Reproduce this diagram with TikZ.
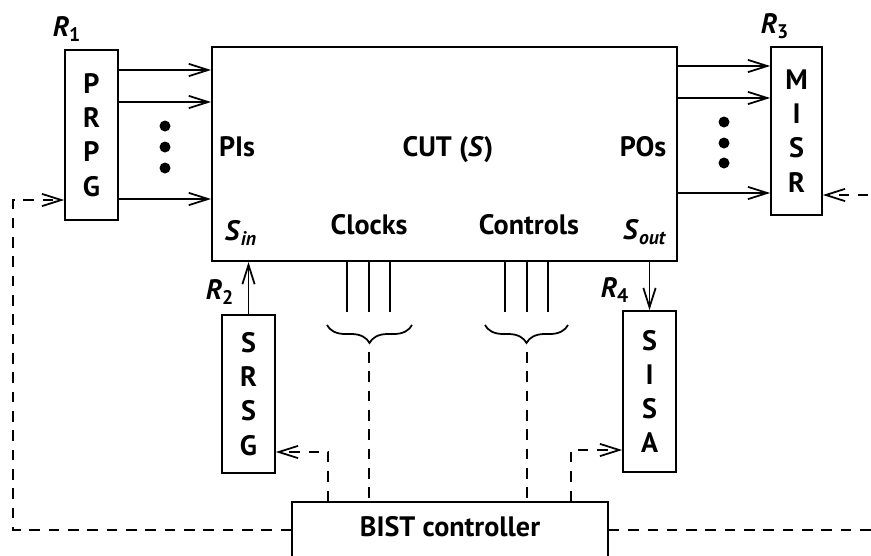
\documentclass[tikz,border=0pt]{standalone}
\usepackage{fontspec}
\setmainfont{PT Sans}
\usetikzlibrary{arrows.meta,positioning,calc,decorations.pathreplacing}

\begin{document}
\begin{tikzpicture}[x=0.02cm, y=-0.02cm,
    every node/.style={font=\bfseries\fontsize{16}{19.5}\selectfont},
    reg/.style={draw, line width=1pt, align=center, inner sep=0pt, minimum width=1.06cm},
    sig/.style={line width=1pt, -{Straight Barb[length=11pt,width=7pt]}},
    ctl/.style={line width=1pt, dash pattern=on 6pt off 5pt, -{Straight Barb[length=11pt,width=7pt]}},
    ctlline/.style={line width=1pt, dash pattern=on 6pt off 5pt},
    bus/.style={line width=0.8pt},
    brc/.style={line width=1pt, decorate, decoration={brace, mirror, amplitude=0.36cm}}]
    \useasboundingbox (0,0) rectangle (871,555);
    \clip (0,0) rectangle (871,555);

    % circuit under test
    \node[draw, line width=1.2pt, minimum width=9.30cm, minimum height=4.28cm, inner sep=0pt] (cut) at (444.5,154) {};
    \node (cutlbl) at (448,150) {CUT (\textit{S})};
    \node (pis) at (237,147) {PIs};
    \node (sin) at (241,233) {\textit{S}\textsubscript{\textit{in}}};
    \node (clk) at (369,225) {Clocks};
    \node (ctrl) at (529,225) {Controls};
    \node (pos) at (643,147) {POs};
    \node (sout) at (645,232) {\textit{S}\textsubscript{\textit{out}}};

    % registers
    \node[reg, minimum height=3.40cm] (prpg) at (91.5,135) {P\\R\\P\\G};
    \node[reg, minimum width=1.02cm, minimum height=3.36cm] (misr) at (796.5,131) {M\\I\\S\\R};
    \node[reg, minimum height=3.16cm] (srsg) at (248.5,394) {S\\R\\S\\G};
    \node[reg, minimum height=3.22cm] (sisa) at (649.5,391.5) {S\\I\\S\\A};
    \node (r1) at (67,29) {\textit{R}\textsubscript{1}};
    \node (r2) at (220,292) {\textit{R}\textsubscript{2}};
    \node (r3) at (775,26) {\textit{R}\textsubscript{3}};
    \node (r4) at (615,290) {\textit{R}\textsubscript{4}};

    % controller
    \node[draw, line width=1pt, minimum width=6.32cm, minimum height=1.5cm, inner sep=0pt] (bist) at (450,539.5) {};
    \node (bistlbl) at (450,527) {BIST controller};

    % PIs and POs
    \foreach \y in {70,102,199}
        \draw[sig] (prpg.east |- 0,\y) -- (cut.west |- 0,\y);
    \foreach \y in {66,98,193}
        \draw[sig] (cut.east |- 0,\y) -- (misr.west |- 0,\y);
    \foreach \y in {126,147,168}
        \fill (165,\y) circle (0.11cm);
    \foreach \y in {122,143,163}
        \fill (724,\y) circle (0.11cm);

    % scan in / scan out
    \draw[sig] (srsg.north) -- (srsg.north |- cut.south);
    \draw[sig] (sisa.north |- cut.south) -- (sisa.north);

    % clocks and controls
    \foreach \x in {347,369,390,505,527,548}
        \draw[bus] (cut.south -| \x,0) -- (\x,312);
    \draw[brc] (327,325) -- (412,325);
    \draw[brc] (485,325) -- (568,325);
    \coordinate (clkb) at (369,352);
    \coordinate (ctlb) at (527,352);
    \draw[ctlline] (clkb) -- (bist.north -| clkb);
    \draw[ctlline] (ctlb) -- (bist.north -| ctlb);

    % control lines
    \draw[ctl] (bist.north -| 328,0) |- (srsg.east |- 0,452);
    \draw[ctl] (bist.north -| 571,0) |- (sisa.west |- 0,450);
    \coordinate (lcorner) at (13,200);
    \coordinate (rcorner) at (890,195);
    \draw[ctl] (bist.west |- 0,530) -| (lcorner) -- (prpg.west |- lcorner);
    \draw[ctl] (bist.east |- 0,530) -| (rcorner) -- (misr.east |- rcorner);
\end{tikzpicture}
\end{document}
